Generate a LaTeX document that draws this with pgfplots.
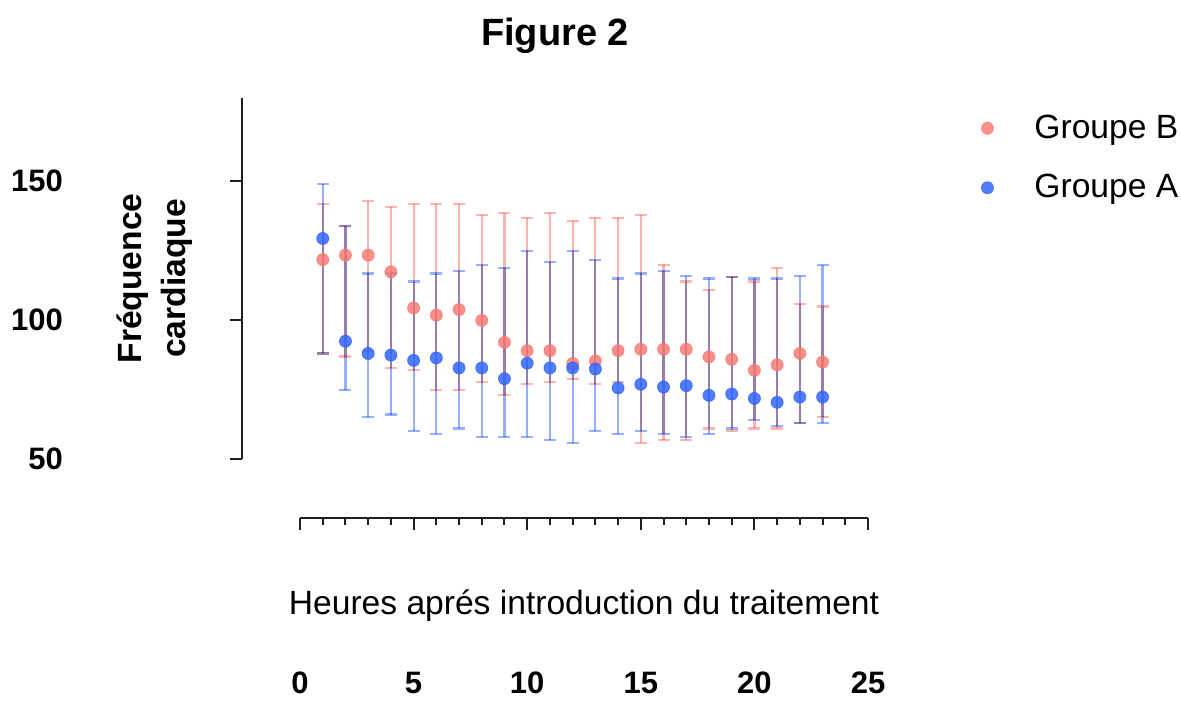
\documentclass[border=0pt]{standalone}
\usepackage{pgfplots}
\pgfplotsset{compat=1.18}
\usepackage{pgfplotstable}
\usepackage{fontspec}
\setmainfont{Liberation Sans}
\definecolor{gbred}{RGB}{248,118,109}
\definecolor{gablue}{RGB}{51,102,255}
\definecolor{errred}{RGB}{255,180,175}
\definecolor{errblue}{RGB}{150,176,255}
\definecolor{axcol}{RGB}{30,30,30}

\pgfplotstableread{
x y hi lo
1 121.8 141.8 88.0
2 123.4 133.8 86.9
3 123.4 142.8 88.8
4 117.4 140.8 82.8
5 104.4 141.8 82.0
6 101.8 141.8 74.8
7 103.8 141.8 74.8
8 99.9 137.8 77.8
9 92.0 138.7 72.9
10 89.0 136.8 76.9
11 89.0 138.7 77.8
12 84.4 135.8 78.9
13 85.3 136.8 76.9
14 89.0 136.8 77.8
15 89.5 137.8 55.9
16 89.5 119.8 56.9
17 89.5 113.9 56.9
18 86.8 110.9 61.0
19 85.9 115.6 60.0
20 81.9 113.9 61.0
21 83.9 118.8 61.0
22 88.0 105.9 63.0
23 84.9 104.9 65.0
}\groupB

\pgfplotstableread{
x y hi lo
1 129.4 148.9 88.0
2 92.4 133.8 74.8
3 88.0 116.8 65.0
4 87.4 116.8 66.0
5 85.5 113.9 60.0
6 86.4 116.8 59.0
7 82.8 117.8 61.0
8 82.8 119.8 58.0
9 78.9 118.8 58.0
10 84.5 124.9 58.0
11 82.8 120.9 56.9
12 82.8 124.9 55.9
13 82.4 121.8 60.0
14 75.6 115.0 59.0
15 76.9 116.8 60.0
16 75.9 117.8 59.0
17 76.4 115.8 58.0
18 72.9 115.0 59.0
19 73.4 115.6 61.0
20 71.8 115.0 64.0
21 70.4 115.0 62.0
22 72.3 115.8 63.0
23 72.3 119.8 63.0
}\groupA

\begin{document}
\begin{tikzpicture}
\useasboundingbox (0pt,0pt) rectangle (590.5pt,363pt);
% main axis (y axis + data)
\begin{axis}[
  at={(121pt,133.5pt)}, anchor=south west,
  scale only axis, width=313pt, height=180.5pt,
  xmin=-2.553, xmax=25, ymin=50, ymax=180,
  axis x line=none, axis y line=left,
  axis line style={-, line width=1pt, axcol},
  ytick={50,100,150},
  tick align=outside, major tick length=6pt,
  tick style={line width=1pt, axcol},
  /pgf/number format/assume math mode=true,
  yticklabel style={font=\bfseries\fontsize{15.5}{18}\selectfont, anchor=east, xshift=-80pt},
  ylabel={Fréquence\\cardiaque},
  ylabel style={at={(axis description cs:-0.139,0.5)}, anchor=center, align=center,
    font=\bfseries\fontsize{16.8}{22}\selectfont},
  title={Figure 2},
  title style={at={(axis description cs:0.5,1)}, anchor=base, yshift=20pt,
    font=\bfseries\fontsize{19}{22}\selectfont},
  clip=false,
  legend style={at={(axis description cs:1.171,0.976)}, anchor=north west, draw=none, fill=none,
    font=\fontsize{16.8}{20}\selectfont, row sep=12.5pt,
    /tikz/every odd column/.append style={column sep=18.5pt}},
  legend cell align=left,
]
\addplot[color=gbred, only marks, mark=*, mark size=3pt,
  mark options={draw=gbred, fill=gbred, opacity=0.8},
  error bars/.cd, y dir=both, y explicit,
  error bar style={errred, line width=1.1pt, blend mode=multiply},
  error mark options={errred, line width=1.1pt, mark size=3pt, blend mode=multiply, rotate=90}]
  table[x=x, y=y, y error plus expr=\thisrow{hi}-\thisrow{y}, y error minus expr=\thisrow{y}-\thisrow{lo}] {\groupB};
\addlegendentry{Groupe B}
\addplot[color=gablue, only marks, mark=*, mark size=3pt,
  mark options={draw=gablue, fill=gablue, opacity=0.85},
  error bars/.cd, y dir=both, y explicit,
  error bar style={errblue, line width=1.1pt, blend mode=multiply},
  error mark options={errblue, line width=1.1pt, mark size=3pt, blend mode=multiply, rotate=90}]
  table[x=x, y=y, y error plus expr=\thisrow{hi}-\thisrow{y}, y error minus expr=\thisrow{y}-\thisrow{lo}] {\groupA};
\addlegendentry{Groupe A}
\end{axis}
% separate x axis
\begin{axis}[
  at={(150pt,104pt)}, anchor=south west,
  scale only axis, width=284pt, height=1pt,
  xmin=0, xmax=25, ymin=0, ymax=1,
  axis y line=none, axis x line=bottom,
  axis line style={-, line width=1pt, axcol},
  xtick={0,5,...,25}, minor x tick num=4,
  tick align=outside, major tick length=6pt, minor tick length=3.4pt,
  tick style={line width=1pt, axcol},
  /pgf/number format/assume math mode=true,
  xticklabel style={font=\bfseries\fontsize{15.5}{18}\selectfont, anchor=base, yshift=-82pt},
  xlabel={Heures aprés introduction du traitement},
  xlabel style={at={(axis description cs:0.5,0)}, anchor=base, yshift=-48.5pt,
    font=\fontsize{16.8}{20}\selectfont},
]
\end{axis}
\end{tikzpicture}
\end{document}
